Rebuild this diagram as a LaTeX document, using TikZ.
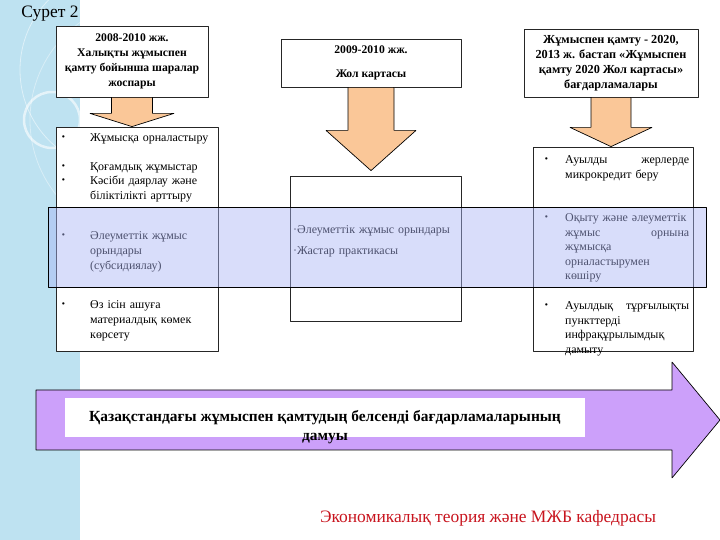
\documentclass[tikz,border=0pt]{standalone}
\usepackage{fontspec}
\setmainfont{Liberation Serif}
\usetikzlibrary{calc}
\definecolor{stripblue}{RGB}{190,226,241}
\definecolor{peach}{RGB}{250,199,152}
\definecolor{bandblue}{RGB}{170,180,245}
\definecolor{lilac}{RGB}{204,160,250}
\definecolor{deptred}{RGB}{200,20,30}
\begin{document}
\begin{tikzpicture}[line join=bevel,
  box/.style={draw=black!85,line width=0.8pt,fill=white,inner sep=0pt},
  headtext/.style={font=\bfseries\fontsize{11.7}{15}\selectfont,align=center},
  itemtext/.style={font=\fontsize{12}{15}\selectfont,align=left,anchor=base west,inner sep=0pt,text width=#1},
  itemtext/.default=125bp,
  bulletmark/.style={font=\bfseries\fontsize{14}{15}\selectfont,anchor=base west,inner sep=0pt},
  peacharrow/.style={draw=black,line width=0.7pt,fill=peach},
  lilacarrow/.style={draw=black,line width=0.7pt,fill=lilac},
]
%%
\useasboundingbox (0bp,0bp) rectangle (720bp,540bp);
\fill [stripblue] (0bp,0bp) rectangle (80bp,540bp);
\begin{scope}
  \clip (0bp,0bp) rectangle (80bp,540bp);
  \draw [white,line width=2.5pt,opacity=0.6] (52bp,420bp) circle (28bp);
  \draw [white,line width=0.8pt,opacity=0.5] (120bp,470bp) circle (100bp);
  \draw [white,line width=0.8pt,opacity=0.4] (150bp,420bp) circle (120bp);
\end{scope}
\node (node_fig) at (50.0bp,526.0bp) [font=\fontsize{17.5}{20}\selectfont] {Сурет 2};
%
\node (node_plan) at (132.0bp,478.5bp) [box,headtext,minimum width=152bp,minimum height=71bp] {2008-2010 жж.\\Халықты жұмыспен\\қамту бойынша шаралар\\жоспары};
  \node (node_road) at (371.0bp,477.0bp) [box,headtext,minimum width=180bp,minimum height=48bp] {2009-2010 жж.\\[9bp]Жол картасы};
  \node (node_prog) at (611.0bp,477.0bp) [box,headtext,font=\bfseries\fontsize{12.3}{15}\selectfont,minimum width=174bp,minimum height=68bp] {Жұмыспен қамту - 2020,\\2013 ж. бастап «Жұмыспен\\қамту 2020 Жол картасы»\\бағдарламалары};
%
\node (node_plan_list) at (137.0bp,301.0bp) [box,minimum width=162bp,minimum height=224bp] {};
  \node (node_road_list) at (375.5bp,291.5bp) [box,minimum width=171bp,minimum height=145bp] {};
  \node (node_prog_list) at (613.0bp,291.0bp) [box,minimum width=160bp,minimum height=204bp] {};
%
\foreach \yy/\txt [count=\i] in {398/{Жұмысқа орналастыру}, 369/{Қоғамдық жұмыстар}, 355/{Кәсіби даярлау және\\біліктілікті арттыру}, 300/{Әлеуметтік жұмыс\\орындары\\(субсидиялау)}, 231/{Өз ісін ашуға\\материалдық көмек\\көрсету}}{
  \node (plan_bullet\i) at (61bp,\yy bp) [bulletmark] {·};
  \node (plan_item\i) at (90bp,\yy bp) [itemtext] {\txt};
}
\node (road_item1) at (293bp,306bp) [itemtext=165bp] {·Әлеуметтік жұмыс орындары};
  \node (road_item2) at (293bp,285bp) [itemtext=165bp] {·Жастар практикасы};
\foreach \yy/\txt [count=\i] in {376/{Ауылды\hfill жерлерде\\микрокредит беру}, 318/{Оқыту және әлеуметтік\\жұмыс\hfill орнына\\жұмысқа\\орналастырумен\\көшіру}, 230/{Ауылдық\hfill тұрғылықты\\пункттерді\\инфрақұрылымдық\\дамыту}}{
  \node (prog_bullet\i) at (544bp,\yy bp) [bulletmark] {·};
  \node (prog_item\i) at (565bp,\yy bp) [itemtext=124bp,font=\fontsize{12}{14.5}\selectfont] {\txt};
}
%
\draw [black,line width=0.6pt,fill=bandblue,fill opacity=0.45] (48bp,333bp) rectangle (706bp,253bp);
%
\draw [peacharrow] ($(node_plan.south)+(-20.5bp,0bp)$) -- ++(0bp,-16bp) -- ++(-21.5bp,0bp) -- (node_plan.south |- node_plan_list.north) -- ($(node_plan.south)+(42bp,-16bp)$) -- ++(-21.5bp,0bp) -- ($(node_plan.south)+(20.5bp,0bp)$) -- cycle;
  \draw [peacharrow] ($(node_road.south)+(-23bp,0bp)$) -- ++(0bp,-43bp) -- ++(-22bp,0bp) -- ($(node_road.south |- node_road_list.north)+(0bp,5bp)$) -- ($(node_road.south)+(45bp,-43bp)$) -- ++(-22bp,0bp) -- ($(node_road.south)+(23bp,0bp)$) -- cycle;
  \draw [peacharrow] ($(node_prog.south)+(-20bp,0bp)$) -- ++(0bp,-30bp) -- ++(-21bp,0bp) -- (node_prog.south |- node_prog_list.north) -- ($(node_prog.south)+(41bp,-30bp)$) -- ++(-21bp,0bp) -- ($(node_prog.south)+(20bp,0bp)$) -- cycle;
%
\draw [lilacarrow] (36bp,150bp) -- (672bp,150bp) -- (672bp,178bp) -- (720bp,120bp) -- (672bp,62bp) -- (672bp,90bp) -- (36bp,90bp) -- cycle;
\node (node_title_bg) at (325.0bp,122.5bp) [fill=white,minimum width=520bp,minimum height=39bp,inner sep=0pt] {};
  \node (node_title) at (325.0bp,112.5bp) [font=\bfseries\fontsize{15.5}{19}\selectfont,align=center] {Қазақстандағы жұмыспен қамтудың белсенді бағдарламаларының\\дамуы};
%
\node (node_dept) at (488.0bp,22.0bp) [text=deptred,font=\fontsize{17.5}{20}\selectfont] {Экономикалық теория және МЖБ кафедрасы};
%
\end{tikzpicture}
\end{document}
